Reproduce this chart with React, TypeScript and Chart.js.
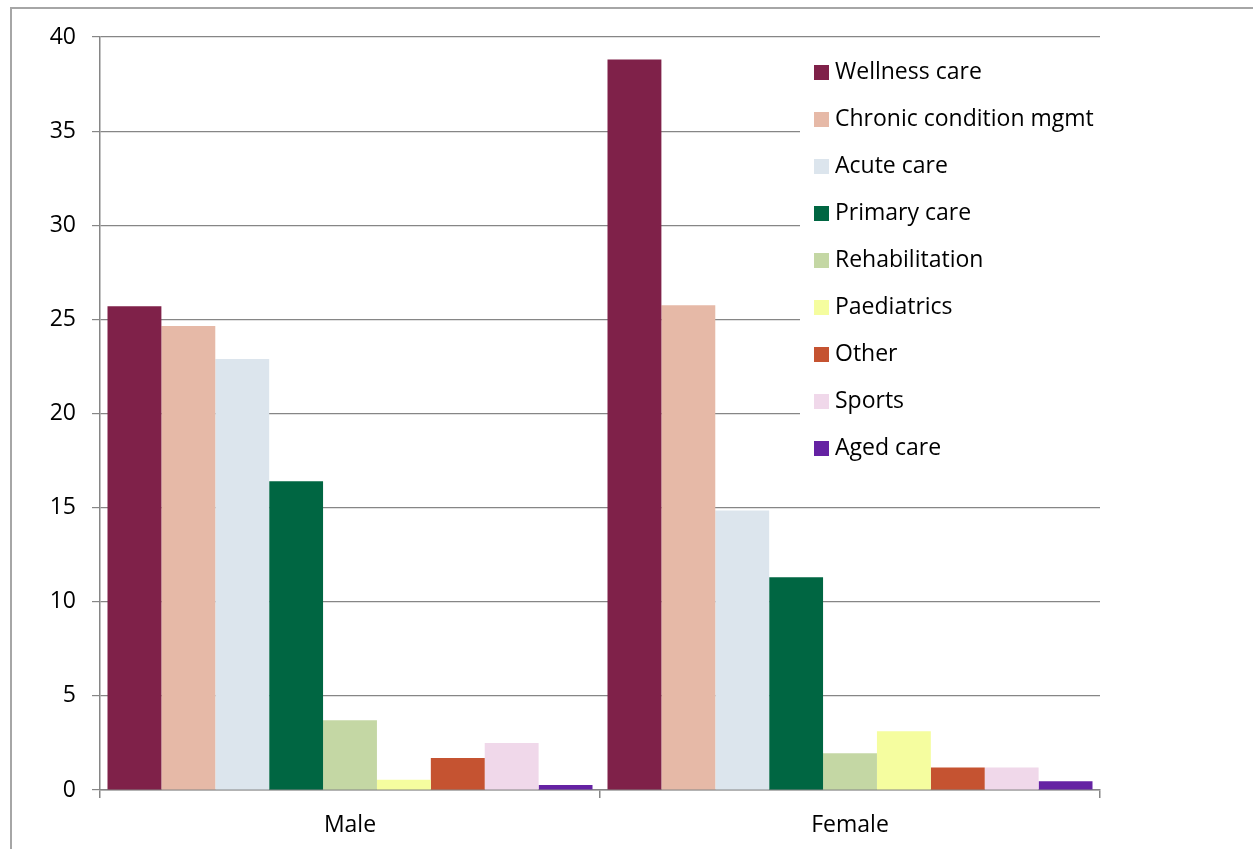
import React, { useEffect, useRef } from "react";
import { Chart, registerables } from "chart.js";

Chart.register(...registerables);

const categories = ["Male", "Female"];
const seriesNames = [
  "Wellness care",
  "Chronic condition mgmt",
  "Acute care",
  "Primary care",
  "Rehabilitation",
  "Paediatrics",
  "Other",
  "Sports",
  "Aged care",
];
const wellnessCare = [25.7, 38.8];
const chronicMgmt = [24.65, 25.75];
const acuteCare = [22.9, 14.85];
const primaryCare = [16.4, 11.3];
const rehabilitation = [3.7, 1.95];
const paediatrics = [0.55, 3.12];
const other = [1.7, 1.2];
const sports = [2.5, 1.2];
const agedCare = [0.27, 0.46];
const seriesColors = [
  "#7F2149",
  "#E6B9A7",
  "#DCE5ED",
  "#006642",
  "#C4D7A4",
  "#F5FD9F",
  "#C55331",
  "#F0D8EA",
  "#6522A3",
];
const yTicks = [0, 5, 10, 15, 20, 25, 30, 35, 40];

const FONT = "'Open Sans', 'Liberation Sans', sans-serif";
const FONT_SIZE = 23;
const GRID = "#868686";

const insideLegend = {
  id: "insideLegend",
  afterDraw(chart: any) {
    const ctx = chart.ctx;
    ctx.save();
    ctx.fillStyle = "#ffffff";
    ctx.fillRect(800, 44, chart.chartArea.right - 800, 430);
    const startY = 72;
    const step = 47.0;
    ctx.font = `${FONT_SIZE}px ${FONT}`;
    ctx.textBaseline = "middle";
    ctx.textAlign = "left";
    chart.data.datasets.forEach((ds: any, i: number) => {
      const cy = startY + i * step;
      ctx.fillStyle = ds.backgroundColor;
      ctx.fillRect(814, cy - 7, 15, 15);
      ctx.fillStyle = "#000000";
      ctx.fillText(ds.label, 835, cy);
    });
    ctx.restore();
  },
};

export default function App() {
  const ref = useRef<HTMLCanvasElement | null>(null);

  useEffect(() => {
    if (!ref.current) return;
    const seriesData = [
      wellnessCare,
      chronicMgmt,
      acuteCare,
      primaryCare,
      rehabilitation,
      paediatrics,
      other,
      sports,
      agedCare,
    ];
    const chart = new Chart(ref.current, {
      type: "bar",
      data: {
        labels: categories,
        datasets: seriesNames.map((name, i) => ({
          label: name,
          data: seriesData[i],
          backgroundColor: seriesColors[i],
          borderWidth: 0,
          barPercentage: 1,
          categoryPercentage: 0.97,
        })),
      },
      options: {
        responsive: false,
        animation: false,
        devicePixelRatio: 1,
        layout: { padding: { left: 0, top: 37, right: 153, bottom: 0 } },
        plugins: {
          legend: { display: false },
          tooltip: { enabled: false },
        },
        scales: {
          x: {
            offset: true,
            grid: {
              offset: true,
              drawOnChartArea: false,
              drawTicks: true,
              tickLength: 8,
              color: GRID,
              lineWidth: 1.5,
            },
            border: { color: GRID, width: 1.5 },
            ticks: {
              color: "#000",
              font: { family: FONT, size: FONT_SIZE },
              padding: 14,
            },
            afterFit(scale: any) {
              scale.height = 59;
            },
          },
          y: {
            min: 0,
            max: 40,
            afterBuildTicks(scale: any) {
              scale.ticks = yTicks.map((v) => ({ value: v }));
            },
            grid: {
              color: GRID,
              lineWidth: 1.2,
              drawTicks: true,
              tickLength: 8,
            },
            border: { color: GRID, width: 1.5 },
            ticks: {
              color: "#000",
              font: { family: FONT, size: FONT_SIZE },
              padding: 16,
            },
            afterFit(scale: any) {
              scale.width = 100;
            },
          },
        },
      },
      plugins: [insideLegend],
    });
    return () => chart.destroy();
  }, []);

  return (
    <>
      <div
        style={{
          position: "fixed",
          left: 10,
          top: 7,
          right: 0,
          bottom: 0,
          borderLeft: "2px solid #a6a6a6",
          borderTop: "2px solid #a6a6a6",
          pointerEvents: "none",
        }}
      />
      <canvas
        ref={ref}
        width={1253}
        height={849}
        style={{ position: "fixed", left: 0, top: 0, width: 1253, height: 849 }}
      />
    </>
  );
}
